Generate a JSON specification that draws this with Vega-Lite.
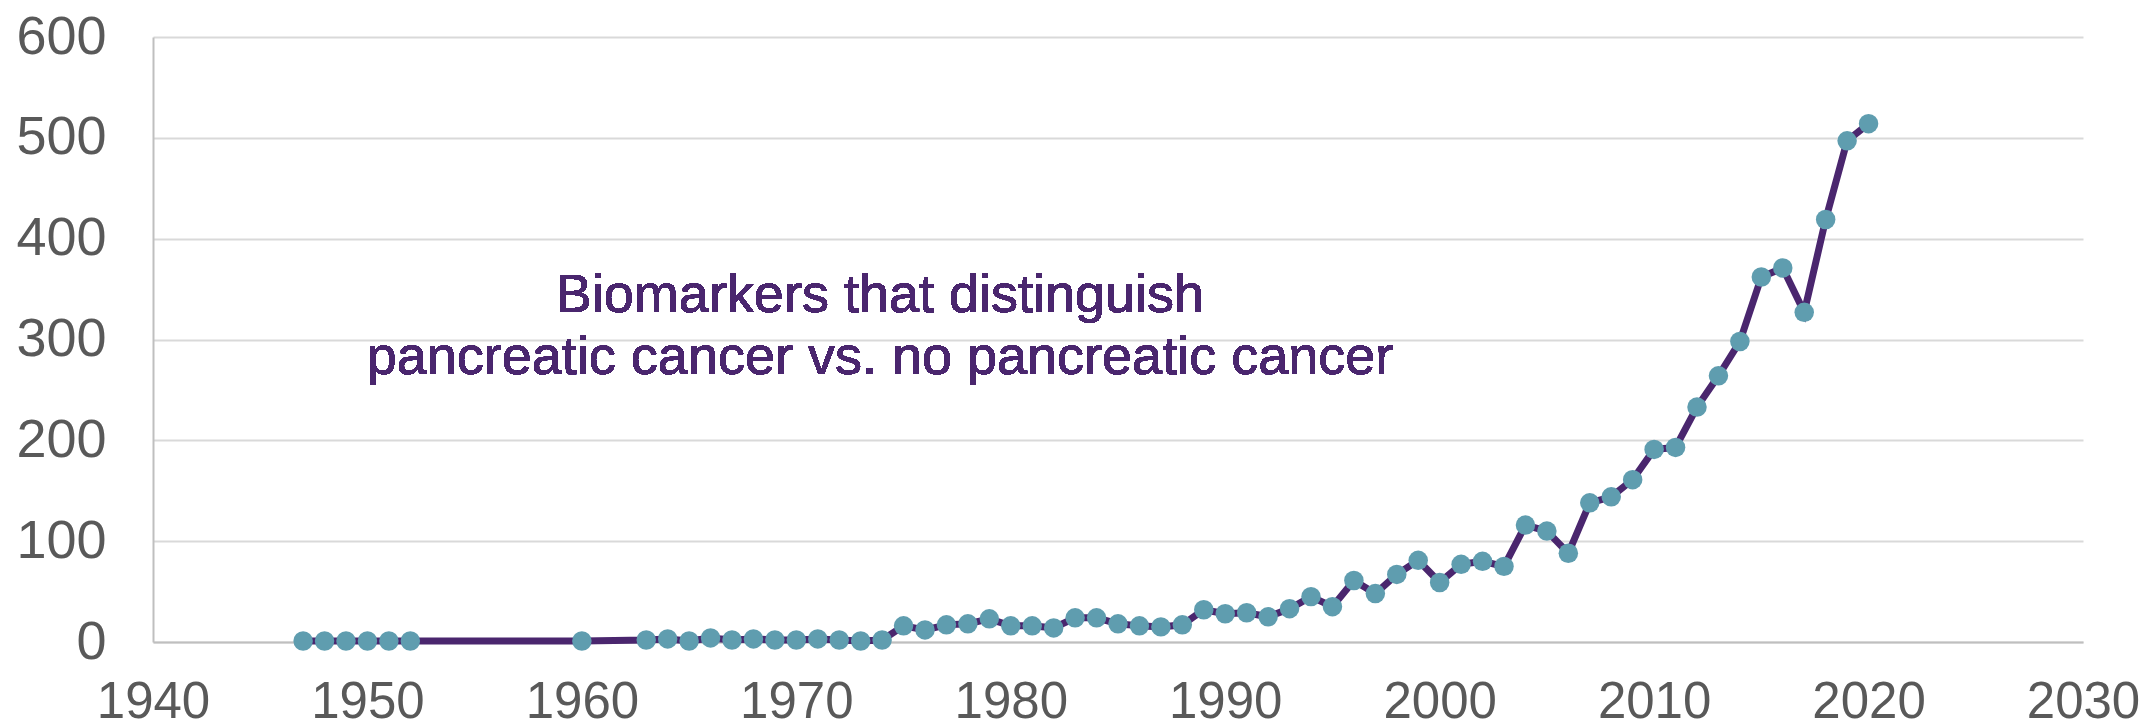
{
  "$schema": "https://vega.github.io/schema/vega-lite/v6.json",
  "width": 1930,
  "height": 605,
  "autosize": {"type": "none"},
  "padding": {"left": 153, "top": 37, "right": 63, "bottom": 86},
  "background": "white",
  "config": {
    "view": {"stroke": null},
    "font": "Liberation Sans"
  },
  "data": {
    "values": [
      {"year": 1947, "count": 1}, {"year": 1948, "count": 1}, {"year": 1949, "count": 1},
      {"year": 1950, "count": 1}, {"year": 1951, "count": 1}, {"year": 1952, "count": 1},
      {"year": 1960, "count": 1}, {"year": 1963, "count": 2}, {"year": 1964, "count": 3},
      {"year": 1965, "count": 1}, {"year": 1966, "count": 4}, {"year": 1967, "count": 2},
      {"year": 1968, "count": 3}, {"year": 1969, "count": 2}, {"year": 1970, "count": 2},
      {"year": 1971, "count": 3}, {"year": 1972, "count": 2}, {"year": 1973, "count": 1},
      {"year": 1974, "count": 2}, {"year": 1975, "count": 16}, {"year": 1976, "count": 12},
      {"year": 1977, "count": 17}, {"year": 1978, "count": 18}, {"year": 1979, "count": 23},
      {"year": 1980, "count": 16}, {"year": 1981, "count": 16}, {"year": 1982, "count": 14},
      {"year": 1983, "count": 24}, {"year": 1984, "count": 24}, {"year": 1985, "count": 18},
      {"year": 1986, "count": 16}, {"year": 1987, "count": 15}, {"year": 1988, "count": 17},
      {"year": 1989, "count": 32}, {"year": 1990, "count": 28}, {"year": 1991, "count": 29},
      {"year": 1992, "count": 25}, {"year": 1993, "count": 33}, {"year": 1994, "count": 45},
      {"year": 1995, "count": 35}, {"year": 1996, "count": 61}, {"year": 1997, "count": 48},
      {"year": 1998, "count": 67}, {"year": 1999, "count": 81}, {"year": 2000, "count": 59},
      {"year": 2001, "count": 77}, {"year": 2002, "count": 80}, {"year": 2003, "count": 75},
      {"year": 2004, "count": 116}, {"year": 2005, "count": 110}, {"year": 2006, "count": 88},
      {"year": 2007, "count": 138}, {"year": 2008, "count": 144}, {"year": 2009, "count": 161},
      {"year": 2010, "count": 191}, {"year": 2011, "count": 193}, {"year": 2012, "count": 233},
      {"year": 2013, "count": 264}, {"year": 2014, "count": 298}, {"year": 2015, "count": 362},
      {"year": 2016, "count": 371}, {"year": 2017, "count": 327}, {"year": 2018, "count": 419},
      {"year": 2019, "count": 497}, {"year": 2020, "count": 514}
    ]
  },
  "encoding": {
    "x": {
      "field": "year", "type": "quantitative",
      "scale": {"domain": [1940, 2030], "nice": false, "zero": false},
      "axis": {
        "values": [1940, 1950, 1960, 1970, 1980, 1990, 2000, 2010, 2020, 2030],
        "format": "d", "title": null, "grid": false, "ticks": false,
        "domainColor": "#BFBFBF", "domainWidth": 2,
        "labelFont": "Liberation Sans", "labelFontSize": 51, "labelColor": "#595959",
        "labelPadding": 35, "labelOverlap": false, "labelFlush": false
      }
    },
    "y": {
      "field": "count", "type": "quantitative",
      "scale": {"domain": [0, 600], "nice": false},
      "axis": {
        "values": [0, 100, 200, 300, 400, 500, 600],
        "title": null, "grid": true, "gridColor": "#D9D9D9", "gridWidth": 2,
        "ticks": false, "domainColor": "#BFBFBF", "domainWidth": 2,
        "labelFont": "Liberation Sans", "labelFontSize": 54, "labelColor": "#595959",
        "labelPadding": 47, "labelOverlap": false, "labelFlush": false
      }
    }
  },
  "layer": [
    {"mark": {"type": "line", "color": "#4A266E", "strokeWidth": 7, "interpolate": "linear"}},
    {"mark": {"type": "point", "filled": true, "color": "#5F9DAF", "opacity": 1, "size": 380}},
    {
      "mark": {
        "type": "text", "text": ["Biomarkers that distinguish", "pancreatic cancer vs. no pancreatic cancer"],
        "font": "Liberation Sans", "fontSize": 54, "color": "#4A266E",
        "align": "center", "baseline": "alphabetic", "lineHeight": 62
      },
      "encoding": {
        "x": {"datum": 1973.9, "type": "quantitative"},
        "y": {"datum": 327, "type": "quantitative"}
      }
    }
  ]
}
